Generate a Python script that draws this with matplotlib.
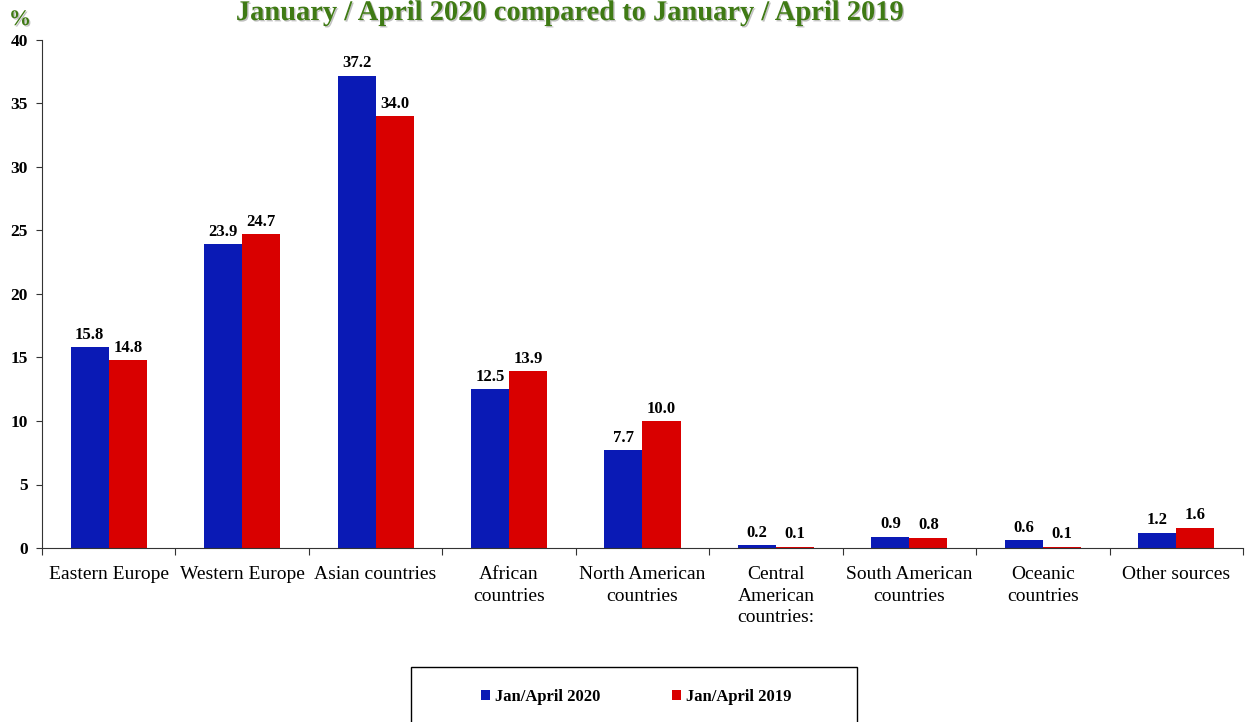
import numpy as np
import matplotlib.pyplot as plt
import matplotlib.patheffects as pe
from matplotlib.patches import Rectangle

categories = ["Eastern Europe", "Western Europe", "Asian countries", "African\ncountries",
              "North American\ncountries", "Central\nAmerican\ncountries:", "South American\ncountries",
              "Oceanic\ncountries", "Other sources"]
jan_apr_2020 = [15.8, 23.9, 37.2, 12.5, 7.7, 0.2, 0.9, 0.6, 1.2]
jan_apr_2019 = [14.8, 24.7, 34.0, 13.9, 10.0, 0.1, 0.8, 0.1, 1.6]
series_names = ["Jan/April 2020", "Jan/April 2019"]

plt.rcParams['font.family'] = ['Liberation Serif', 'DejaVu Serif']

blue = "#0A1AB5"
red = "#D90000"
green = "#3F7A14"

fig = plt.figure(figsize=(12.57, 7.22), dpi=100)
ax = fig.add_axes([42 / 1257, 1 - 548 / 722, 1201 / 1257, 508 / 722])

x = np.arange(len(categories))
w = 0.285
b1 = ax.bar(x - w / 2, jan_apr_2020, w, color=blue, label=series_names[0])
b2 = ax.bar(x + w / 2, jan_apr_2019, w, color=red, label=series_names[1])

for bars, vals in ((b1, jan_apr_2020), (b2, jan_apr_2019)):
    for r, v in zip(bars, vals):
        ax.text(r.get_x() + r.get_width() / 2, v + 0.35, f"{v:.1f}", ha="center", va="bottom",
                fontsize=12, fontweight="bold")

ax.set_xlim(-0.5, len(categories) - 0.5)
ax.set_ylim(0, 40)
ax.set_yticks(np.arange(0, 41, 5))
ax.set_yticklabels([str(v) for v in range(0, 41, 5)], fontsize=12.5, fontweight="bold")

# category boundary ticks, labels at centers
ax.set_xticks(np.arange(-0.5, len(categories), 1.0))
ax.set_xticklabels([])
ax.set_xticks(x, minor=True)
ax.set_xticklabels(categories, minor=True, fontsize=14, va="top", linespacing=1.35)
ax.tick_params(axis="x", which="minor", length=0, pad=13)
ax.tick_params(axis="x", which="major", length=5, direction="out", color="#333333")
ax.tick_params(axis="y", length=4, direction="out", color="#333333", pad=6)

for s in ("top", "right"):
    ax.spines[s].set_visible(False)
for s in ("left", "bottom"):
    ax.spines[s].set_color("#333333")

shadow = [pe.withSimplePatchShadow(offset=(1, -1), shadow_rgbFace="#999999", alpha=0.6)]
fig.text(570 / 1257, 1 - 20 / 722, "January / April 2020 compared to January / April 2019",
         ha="center", va="baseline", fontsize=20.5, fontweight="bold", color=green,
         path_effects=shadow)
fig.text(20 / 1257, 1 - 25 / 722, "%", ha="center", va="baseline", fontsize=16,
         fontweight="bold", color=green, path_effects=shadow)

# legend box
fig.patches.append(Rectangle((411 / 1257, -0.02), 446 / 1257, (722 - 667) / 722 + 0.02,
                             transform=fig.transFigure, fill=False, edgecolor="black", lw=1))
fig.legend(handles=[b1, b2], loc="center", bbox_to_anchor=(636 / 1257, 1 - 697 / 722),
           ncol=2, frameon=False, prop={"size": 12, "weight": "bold"},
           handlelength=0.55, handleheight=0.55, handletextpad=0.3, columnspacing=4.3)

fig.savefig("out.png", dpi=100)
